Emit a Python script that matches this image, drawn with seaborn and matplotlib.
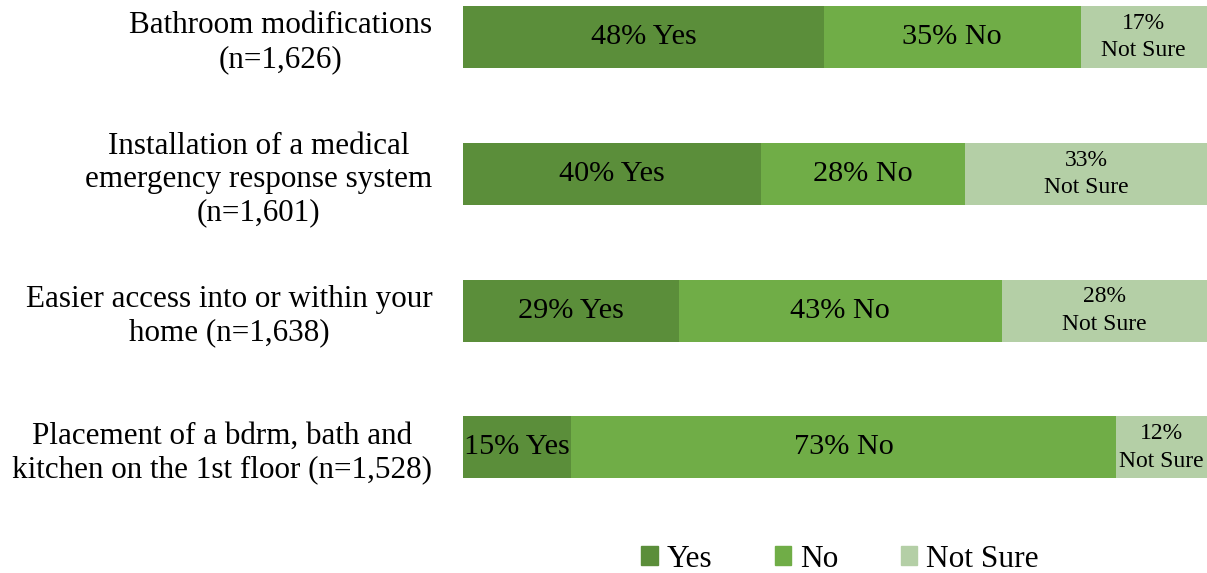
import matplotlib
matplotlib.use("Agg")
import matplotlib.pyplot as plt
import seaborn as sns
import pandas as pd
from matplotlib.patches import Patch

categories = [
    "Bathroom modifications\n(n=1,626)",
    "Installation of a medical\nemergency response system\n(n=1,601)",
    "Easier access into or within your\nhome (n=1,638)",
    "Placement of a bdrm, bath and\nkitchen on the 1st floor (n=1,528)",
]
yes_vals = [48.5, 40.0, 29.0, 14.5]
no_vals = [34.5, 27.5, 43.4, 73.3]
notsure_vals = [17.0, 32.5, 27.6, 12.2]
yes_labels = ["48% Yes", "40% Yes", "29% Yes", "15% Yes"]
no_labels = ["35% No", "28% No", "43% No", "73% No"]
notsure_labels = ["17%\nNot Sure", "33%\nNot Sure", "28%\nNot Sure", "12%\nNot Sure"]

c_yes, c_no, c_ns = "#5B8E3A", "#70AD47", "#B4CFA6"

sns.set_style("white")
plt.rcParams["font.family"] = ["Liberation Serif", "DejaVu Serif"]
plt.rcParams["text.color"] = "black"

df = pd.DataFrame({"cat": categories, "yes": yes_vals, "no": no_vals, "ns": notsure_vals})
df["yes_no"] = df["yes"] + df["no"]
df["total"] = df["yes_no"] + df["ns"]

fig = plt.figure(figsize=(12.07, 5.73), dpi=100)
ax = fig.add_axes([463 / 1207, 1 - 488.5 / 573, 1 - 463 / 1207, 488.5 / 573])

w = 0.453
sns.barplot(data=df, y="cat", x="total", color=c_ns, width=w, orient="h", ax=ax, saturation=1, linewidth=0)
sns.barplot(data=df, y="cat", x="yes_no", color=c_no, width=w, orient="h", ax=ax, saturation=1, linewidth=0)
sns.barplot(data=df, y="cat", x="yes", color=c_yes, width=w, orient="h", ax=ax, saturation=1, linewidth=0)

for i in range(len(categories)):
    ax.text(yes_vals[i] / 2, i, yes_labels[i], ha="center", va="center", fontsize=21.8, color="black")
    ax.text(yes_vals[i] + no_vals[i] / 2, i, no_labels[i], ha="center", va="center", fontsize=21.8, color="black")
    ax.text(yes_vals[i] + no_vals[i] + notsure_vals[i] / 2, i, notsure_labels[i],
            ha="center", va="center", fontsize=17, linespacing=1.4, color="black")

ax.set_xlim(0, 100)
ax.set_ylim(3.3, -0.27)
ax.set_xlabel("")
ax.set_ylabel("")
ax.set_xticks([])
ax.set_yticks(range(len(categories)), categories, fontsize=22.4, color="black",
              multialignment="center", linespacing=1.2)
ax.tick_params(axis="y", length=0, pad=22)
sns.despine(ax=ax, left=True, bottom=True)

handles = [Patch(color=c_yes, label="Yes"), Patch(color=c_no, label="No"), Patch(color=c_ns, label="Not Sure")]
fig.legend(handles=handles, loc="center", bbox_to_anchor=(0.696, 0.0244), ncol=3, frameon=False,
           fontsize=22.6, handlelength=0.52, handleheight=0.52, handletextpad=0.28, columnspacing=2.0)

fig.savefig("out.png", dpi=100)
